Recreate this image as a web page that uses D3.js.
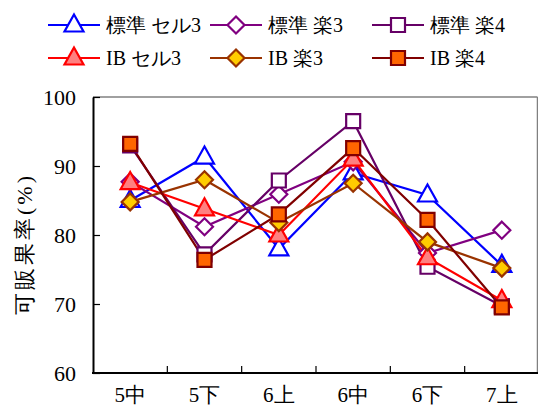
<!DOCTYPE html>
<html><head><meta charset="utf-8">
<script src="https://cdn.jsdelivr.net/npm/d3@7"></script>
<style>
html,body{margin:0;padding:0;background:#fff;}
svg{display:block;}
</style></head>
<body><svg id="c" width="538" height="409"></svg>
<script>
const categories = ["5中","5下","6上","6中","6下","7上"];
const seriesNames = ["標準 セル3","標準 楽3","標準 楽4","IB セル3","IB 楽3","IB 楽4"];
const std_cell3 = [85.0, 91.3, 78.0, 89.0, 85.8, 75.6];
const std_raku3 = [87.7, 81.2, 85.9, 90.6, 77.4, 80.7];
const std_raku4 = [93.0, 77.2, 87.9, 96.5, 75.4, 69.7];
const ib_cell3  = [87.6, 83.8, 80.0, 91.0, 76.7, 70.5];
const ib_raku3  = [84.8, 88.0, 81.8, 87.5, 79.0, 75.2];
const ib_raku4  = [93.2, 76.4, 83.0, 92.6, 82.2, 69.5];
const yTicks = [60, 70, 80, 90, 100];
const yLabel = "可販果率(%)";

const FONT = "'Liberation Serif'";

const styles = [
  {stroke:"#0000FF", fill:"#FFFFFF", shape:"tri"},
  {stroke:"#800080", fill:"#FFFFFF", shape:"dia"},
  {stroke:"#660066", fill:"#FFFFFF", shape:"sq"},
  {stroke:"#FF0000", fill:"#FF8080", shape:"tri"},
  {stroke:"#993300", fill:"#FFCC00", shape:"dia"},
  {stroke:"#800000", fill:"#FF6600", shape:"sq"}
];
const values = [std_cell3, std_raku3, std_raku4, ib_cell3, ib_raku3, ib_raku4];

const svg = d3.select("#c");
const L = 93, R = 538, T = 97, B = 373;
const x = d3.scaleBand().domain(categories).range([L, R + 1]).padding(0);
const y = d3.scaleLinear().domain([60, 100]).range([B, T]);
const cx = d => x(d) + x.bandwidth() / 2;

function shapePath(s) {
  if (s === "tri") return "M0,-10.5L9.5,6.5L-9.5,6.5Z";
  if (s === "dia") return "M0,-8.5L8.5,0L0,8.5L-8.5,0Z";
  return "M-7,-7L7,-7L7,7L-7,7Z";
}

// plot border (top/right gray)
svg.append("line").attr("x1", L).attr("x2", R - 0.5).attr("y1", T).attr("y2", T)
  .attr("stroke", "#808080").attr("stroke-width", 1.5);
svg.append("line").attr("x1", R - 0.5).attr("x2", R - 0.5).attr("y1", T).attr("y2", B)
  .attr("stroke", "#808080").attr("stroke-width", 1.5);

// y axis
const yAxis = d3.axisLeft(y).tickValues(yTicks).tickSizeInner(-7).tickSizeOuter(0).tickPadding(17);
const gy = svg.append("g").attr("transform", `translate(${L},0)`).call(yAxis)
  .attr("font-family", null).attr("font-size", null);
gy.select(".domain").attr("stroke", "#000").attr("stroke-width", 2);
gy.selectAll(".tick line").attr("stroke", "#000").attr("stroke-width", 1.2);
gy.selectAll(".tick text").style("font-family", FONT).style("font-size", "22px").attr("fill", "#000");

// x axis
const xAxis = d3.axisBottom(x).tickSize(0).tickPadding(14);
const gx = svg.append("g").attr("transform", `translate(0,${B})`).call(xAxis)
  .attr("font-family", null).attr("font-size", null);
gx.select(".domain").attr("d", `M${L - 1},0H${R}`).attr("stroke", "#000").attr("stroke-width", 2);
gx.selectAll(".tick text").style("font-family", FONT).style("font-size", "21px").attr("fill", "#000");
svg.append("g").selectAll("line").data(categories.slice(1)).join("line")
  .attr("x1", d => x(d)).attr("x2", d => x(d)).attr("y1", B).attr("y2", B - 7)
  .attr("stroke", "#000").attr("stroke-width", 1.2);

// y label
svg.append("text").attr("transform", `translate(32,${(T + B) / 2 + 9}) rotate(-90)`)
  .attr("text-anchor", "middle").style("font-family", FONT).style("font-size", "22px")
  .style("letter-spacing", "3px").text(yLabel);

// lines
const line = d3.line().x((d, i) => cx(categories[i])).y(d => y(d));
values.forEach((v, k) => {
  svg.append("path").datum(v).attr("d", line).attr("fill", "none")
    .attr("stroke", styles[k].stroke).attr("stroke-width", 2.2).attr("stroke-linejoin", "miter");
});
// markers
values.forEach((v, k) => {
  svg.append("g").selectAll("path").data(v).join("path")
    .attr("transform", (d, i) => `translate(${cx(categories[i])},${y(d)})`)
    .attr("d", shapePath(styles[k].shape))
    .attr("fill", styles[k].fill).attr("stroke", styles[k].stroke).attr("stroke-width", 2.2);
});

// legend
const legX = [48, 210, 372], legY = [25, 58];
seriesNames.forEach((name, k) => {
  const col = k % 3, row = Math.floor(k / 3);
  const g = svg.append("g").attr("transform", `translate(${legX[col]},${legY[row]})`);
  g.append("line").attr("x1", 0).attr("x2", 52).attr("y1", 0).attr("y2", 0)
    .attr("stroke", styles[k].stroke).attr("stroke-width", 2.2);
  g.append("path").attr("transform", "translate(26,0)").attr("d", shapePath(styles[k].shape))
    .attr("fill", styles[k].fill).attr("stroke", styles[k].stroke).attr("stroke-width", 2.2);
  g.append("text").attr("x", 58).attr("y", 0).attr("dy", "0.36em")
    .style("font-family", FONT).style("font-size", "20px").text(name);
});
</script></body></html>
